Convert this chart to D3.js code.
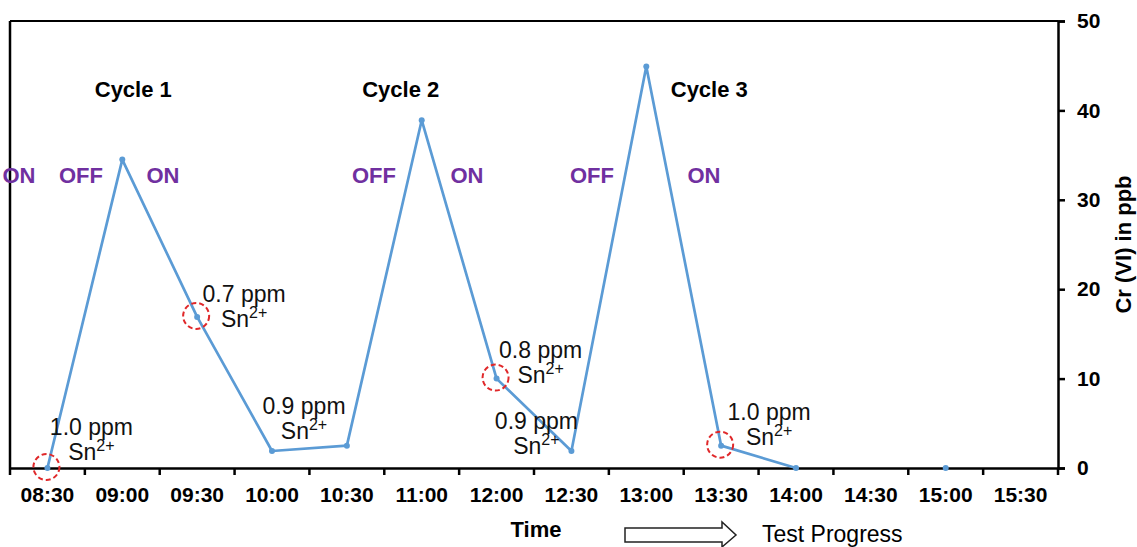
<!DOCTYPE html>
<html>
<head>
<meta charset="utf-8">
<script src="https://cdnjs.cloudflare.com/ajax/libs/d3/7.8.5/d3.min.js"></script>
<style>
  body { margin: 0; background: #fff; }
  text { font-family: "Liberation Sans", Arial, sans-serif; }
</style>
</head>
<body>
<svg id="chart"></svg>
<script>
// Chart size
const width = 1137, height = 547;

// Data
const times = ["08:30", "09:00", "09:30", "10:00", "10:30", "11:00", "12:00",
               "12:30", "13:00", "13:30", "14:00", "14:30", "15:00", "15:30"];
const crValues = [0, 34.5, 16.9, 1.9, 2.5, 38.9, 10.0, 1.9, 44.9, 2.5, 0, null, 0, null];
const yTicks = [0, 10, 20, 30, 40, 50];

// Sn2+ dosing notes: category, dose, circled?
const doseTimes = ["08:30", "09:30", "10:00", "12:00", "12:30", "13:30"];
const doseLabels = ["1.0 ppm", "0.7 ppm", "0.9 ppm", "0.8 ppm", "0.9 ppm", "1.0 ppm"];
const doseCircled = [true, true, false, true, false, true];

const cycleLabels = ["Cycle 1", "Cycle 2", "Cycle 3"];
const cycleTimes = ["09:00", "11:00", "13:00"];
const pumpLabels = ["ON", "OFF", "ON", "OFF", "ON", "OFF", "ON"];

// layout offsets for the free text (pixels)
const doseOffsets = [[44, -33], [47, -15], [32, -37], [44, -21], [-35, -22], [48, -26]];
const cycleOffsets = [11, -21, 63];
const pumpX = [19, 81, 163, 374, 467, 592, 704];

const purple = "#7030a0";
const blue = "#5b9bd5";

const svg = d3.select("#chart")
    .attr("width", width)
    .attr("height", height);

// Scales
const x = d3.scaleBand()
    .domain(times)
    .range([10, 1058])
    .padding(0);

const y = d3.scaleLinear()
    .domain([0, 50])
    .range([468, 21]);

const cx = t => x(t) + x.bandwidth() / 2;

// Plot frame (top and left borders)
svg.append("line")
    .attr("x1", x.range()[0]).attr("x2", x.range()[1])
    .attr("y1", y(50)).attr("y2", y(50))
    .attr("stroke", "black").attr("stroke-width", 2);
svg.append("line")
    .attr("x1", x.range()[0]).attr("x2", x.range()[0])
    .attr("y1", y(50)).attr("y2", y(0))
    .attr("stroke", "black").attr("stroke-width", 2.5);

// Right axis
const yAxis = svg.append("g")
    .attr("transform", `translate(${x.range()[1]},0)`)
    .call(d3.axisRight(y).tickValues(yTicks).tickSize(7).tickPadding(12));
yAxis.select(".domain").attr("stroke-width", 2.5);
yAxis.selectAll(".tick line").attr("stroke-width", 2.5);
yAxis.selectAll(".tick text")
    .attr("font-size", 21).attr("font-weight", "bold")
    .attr("font-family", "'Liberation Sans', Arial, sans-serif")
    .attr("fill", "#000");

// Bottom axis: labels centered in bands, ticks on the band edges
const xAxis = svg.append("g")
    .attr("transform", `translate(0,${y(0)})`)
    .call(d3.axisBottom(x).tickSize(0).tickPadding(19));
xAxis.select(".domain").attr("stroke-width", 2.5);
xAxis.selectAll(".tick text")
    .attr("font-size", 21).attr("font-weight", "bold")
    .attr("font-family", "'Liberation Sans', Arial, sans-serif")
    .attr("fill", "#000");

const edges = times.map(t => x(t)).concat([x.range()[1]]);
svg.append("g").selectAll("line")
    .data(edges)
    .enter()
    .append("line")
    .attr("x1", d => d).attr("x2", d => d)
    .attr("y1", y(0)).attr("y2", y(0) + 7)
    .attr("stroke", "black").attr("stroke-width", 2.5);

// Y axis title
svg.append("text")
    .attr("transform", `translate(1131,${(y(0) + y(50)) / 2}) rotate(-90)`)
    .attr("text-anchor", "middle")
    .attr("font-size", 22).attr("font-weight", "bold")
    .text("Cr (VI) in ppb");

// X axis title and progress arrow
svg.append("text")
    .attr("x", 536).attr("y", 537)
    .attr("text-anchor", "middle")
    .attr("font-size", 22).attr("font-weight", "bold")
    .text("Time");

svg.append("path")
    .attr("d", "M625,528 L722,528 L722,522 L736,535 L722,547 L722,542 L625,542 Z")
    .attr("fill", "white").attr("stroke", "#222").attr("stroke-width", 1.5);

svg.append("text")
    .attr("x", 762).attr("y", 542)
    .attr("font-size", 23)
    .text("Test Progress");

// The data line
const points = times.map((t, i) => ({ t: t, v: crValues[i] }));

const line = d3.line()
    .defined(d => d.v !== null)
    .x(d => cx(d.t))
    .y(d => y(d.v));

svg.append("path")
    .datum(points)
    .attr("d", line)
    .attr("fill", "none")
    .attr("stroke", blue)
    .attr("stroke-width", 2.7)
    .attr("stroke-linejoin", "round");

svg.selectAll("circle.pt")
    .data(points.filter(d => d.v !== null))
    .enter()
    .append("circle")
    .attr("class", "pt")
    .attr("r", 3)
    .attr("fill", blue)
    .attr("cx", d => cx(d.t))
    .attr("cy", d => y(d.v));

// Dose circles and two-line labels (one text element each)
doseTimes.forEach((t, i) => {
    const px = cx(t), py = y(crValues[times.indexOf(t)]);
    if (doseCircled[i]) {
        svg.append("circle")
            .attr("cx", px - 1).attr("cy", py - 1)
            .attr("r", 13)
            .attr("fill", "none")
            .attr("stroke", "#e0282a")
            .attr("stroke-width", 2)
            .attr("stroke-dasharray", "5,3");
    }
    const tx = px + doseOffsets[i][0], ty = py + doseOffsets[i][1];
    const txt = svg.append("text")
        .attr("text-anchor", "middle")
        .attr("font-size", 23)
        .attr("fill", "#111");
    txt.append("tspan").attr("x", tx).attr("y", ty).text(doseLabels[i]);
    txt.append("tspan").attr("x", tx).attr("y", ty + 25).text("Sn");
    txt.append("tspan").attr("font-size", 16).attr("dy", -9).text("2+");
});

// Cycle labels
svg.selectAll("text.cycle")
    .data(cycleLabels)
    .enter()
    .append("text")
    .attr("class", "cycle")
    .attr("x", (d, i) => cx(cycleTimes[i]) + cycleOffsets[i])
    .attr("y", 97)
    .attr("text-anchor", "middle")
    .attr("font-size", 22)
    .attr("font-weight", "bold")
    .text(d => d);

// Pump ON / OFF labels
svg.selectAll("text.pump")
    .data(pumpLabels)
    .enter()
    .append("text")
    .attr("class", "pump")
    .attr("x", (d, i) => pumpX[i])
    .attr("y", 183)
    .attr("text-anchor", "middle")
    .attr("font-size", 22)
    .attr("font-weight", "bold")
    .attr("fill", purple)
    .text(d => d);
</script>
</body>
</html>
